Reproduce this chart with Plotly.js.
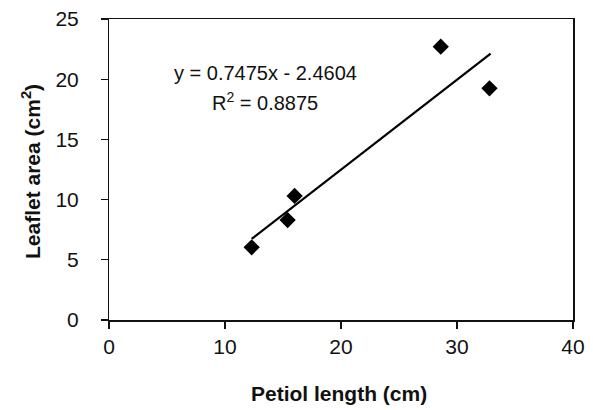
<!DOCTYPE html>
<html>
<head>
<meta charset="utf-8">
<script src="https://cdn.plot.ly/plotly-3.0.1.min.js"></script>
<style>html,body{margin:0;padding:0;background:#fff}#chart{width:593px;height:410px}</style>
</head>
<body>
<div id="chart"></div>
<script>
// Data
const petiolLength = [12.3, 15.4, 16.0, 28.6, 32.8];
const leafletArea  = [6.04, 8.3, 10.3, 22.7, 19.24];
const trendX = [12.3, 32.9];
const trendY = [6.73, 22.13];
const equationText = "y = 0.7475x - 2.4604";
const r2Text = "R<sup>2</sup> = 0.8875";
const xTitle = "<b>Petiol length (cm)</b>";
const yTitle = "<b>Leaflet area (cm<sup>2</sup>)</b>";
const xTicks = [0, 10, 20, 30, 40];
const yTicks = [0, 5, 10, 15, 20, 25];

const font = "Liberation Sans, Arial, sans-serif";

const traces = [
  {
    x: trendX, y: trendY, type: "scatter", mode: "lines",
    line: {color: "#000", width: 2.2}, hoverinfo: "skip", showlegend: false
  },
  {
    x: petiolLength, y: leafletArea, type: "scatter", mode: "markers",
    marker: {symbol: "diamond", size: 12.5, color: "#000"}, showlegend: false
  }
];

const axisCommon = {
  showgrid: false, zeroline: false, showline: true, mirror: true,
  linecolor: "#111", linewidth: 1.5,
  ticks: "outside", ticklen: 7, tickwidth: 1.3, tickcolor: "#111",
  tickfont: {family: font, size: 21, color: "#111"}
};

const layout = {
  width: 593, height: 410,
  margin: {l: 109, r: 20, t: 19, b: 90},
  paper_bgcolor: "#fff", plot_bgcolor: "#fff",
  xaxis: Object.assign({}, axisCommon, {
    range: [0, 40], tickvals: xTicks, ticktext: xTicks.map(String)
  }),
  yaxis: Object.assign({}, axisCommon, {
    range: [0, 25], tickvals: yTicks,
    ticktext: yTicks.map(v => String(v) + "\u00a0\u00a0\u00a0")
  }),
  annotations: [
    {xref: "paper", yref: "paper", x: (265.5 - 109) / 464, y: (320 - 73) / 301, text: equationText,
     showarrow: false, xanchor: "center", yanchor: "middle", font: {family: font, size: 20, color: "#111"}},
    {xref: "paper", yref: "paper", x: (265 - 109) / 464, y: (320 - 101) / 301, text: r2Text,
     showarrow: false, xanchor: "center", yanchor: "middle", font: {family: font, size: 20, color: "#111"}},
    {xref: "paper", yref: "paper", x: (31 - 109) / 464, y: (320 - 172) / 301, text: yTitle, textangle: -90,
     showarrow: false, xanchor: "center", yanchor: "middle", font: {family: font, size: 21, color: "#111"}},
    {xref: "paper", yref: "paper", x: (339 - 109) / 464, y: (320 - 393) / 301, text: xTitle,
     showarrow: false, xanchor: "center", yanchor: "middle", font: {family: font, size: 21, color: "#111"}}
  ]
};

Plotly.newPlot("chart", traces, layout, {staticPlot: true, displayModeBar: false});
</script>
</body>
</html>
